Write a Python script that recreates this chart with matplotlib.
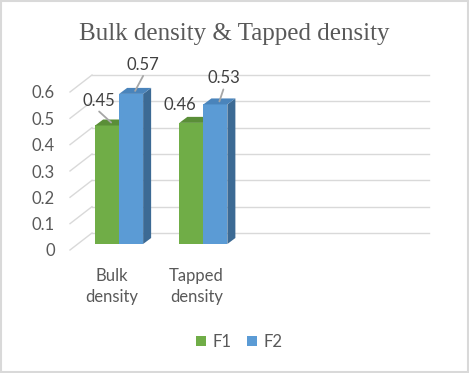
import matplotlib.pyplot as plt
from matplotlib.patches import Polygon, Rectangle

# === Data ===
categories = ["Bulk\ndensity", "Tapped\ndensity"]
series_names = ["F1", "F2"]
f1 = [0.45, 0.46]
f2 = [0.57, 0.53]
yticks = [0, 0.1, 0.2, 0.3, 0.4, 0.5, 0.6]

# colours: front, top, side
colors = {
    "F1": ("#70AD47", "#5A8E38", "#4E7A30"),
    "F2": ("#5B9BD5", "#4A84BB", "#3C6A94"),
}
grid_c = "#D9D9D9"
text_c = "#595959"

W, H = 4.69, 3.73
fig = plt.figure(figsize=(W, H), dpi=100)
ax_l, ax_b, ax_w, ax_h = 70 / 469, 123 / 373, 337 / 469, 158 / 373
ax = fig.add_axes([ax_l, ax_b, ax_w, ax_h])
n_slots = 4  # excel left two empty category slots
ax.set_xlim(0, n_slots)
ax.set_ylim(0, 0.6)
for s in ax.spines.values():
    s.set_visible(False)

# pixel -> data units
px_x = n_slots / (W * 100 * ax_w)
px_y = 0.6 / (H * 100 * ax_h)

# back wall gridlines + diagonals
bx, by = 22 * px_x, 17 * px_y
for v in yticks:
    ax.plot([0, bx], [v, v + by], color=grid_c, lw=1, clip_on=False, zorder=1)
    ax.plot([bx, n_slots + bx], [v + by, v + by], color=grid_c, lw=1, clip_on=False, zorder=1)

# 3d-ish bars
off_x, off_y = 7 * px_x, 6 * px_y    # bar front plane offset
dep_x, dep_y = 8 * px_x, 6 * px_y    # bar depth
bw = 24 * px_x
label_off = {(0, 0): (-12, 22), (0, 1): (8, 26), (1, 0): (-15, 15), (1, 1): (4, 23)}

for si, (name, vals) in enumerate(zip(series_names, [f1, f2])):
    front, top, side = colors[name]
    for i, v in enumerate(vals):
        x0 = i + 0.5 - bw + si * bw + off_x
        x1 = x0 + bw
        y0 = off_y
        y1 = v + off_y
        ax.add_patch(Rectangle((x0, y0), bw, v, facecolor=front, edgecolor="none", zorder=3, clip_on=False))
        ax.add_patch(Polygon([(x1, y0), (x1 + dep_x, y0 + dep_y), (x1 + dep_x, y1 + dep_y), (x1, y1)],
                             facecolor=side, edgecolor="none", zorder=3, clip_on=False))
        ax.add_patch(Polygon([(x0, y1), (x1, y1), (x1 + dep_x, y1 + dep_y), (x0 + dep_x, y1 + dep_y)],
                             facecolor=top, edgecolor="none", zorder=3, clip_on=False))
        dx, dy = label_off[(i, si)]
        tip = ((x0 + x1) / 2 + dep_x / 2, y1 + dep_y / 2)
        ax.annotate(f"{v:.2f}", xy=tip, xytext=(dx * 0.72, dy * 0.72), textcoords="offset points",
                    ha="center", va="center", fontsize=12, color="#404040", family="Lato",
                    zorder=4, annotation_clip=False)
        if dy > 20:  # leader line
            ax.annotate("", xy=tip, xytext=(dx * 0.72, (dy - 11) * 0.72), textcoords="offset points",
                        arrowprops=dict(arrowstyle="-", color="#A6A6A6", lw=1.3, shrinkA=0, shrinkB=0),
                        zorder=4, annotation_clip=False)

ax.set_yticks(yticks)
ax.set_yticklabels([f"{t:g}" for t in yticks], family="Lato", fontsize=12, color=text_c)
ax.set_xticks([i + 0.5 for i in range(len(categories))])
ax.set_xticklabels(categories, family="Lato", fontsize=12, color=text_c, linespacing=1.35)
ax.tick_params(axis="y", length=0, pad=11)
ax.tick_params(axis="x", length=0, pad=13)

# title
fig.text(0.5, 1 - 40 / 373, "Bulk density & Tapped density", ha="center", va="baseline",
         family="Liberation Serif", fontsize=18, color=text_c)

# legend
handles = [Rectangle((0, 0), 1, 1, facecolor=colors[n][0]) for n in series_names]
fig.legend(handles, series_names, loc="center", bbox_to_anchor=(239 / 469, 1 - 342 / 373),
           ncol=2, frameon=False, prop={"family": "Lato", "size": 12}, labelcolor=text_c,
           handlelength=0.6, handleheight=0.6, handletextpad=0.4, columnspacing=0.9)

# outer border
fig.patches.append(Rectangle((0.002, 0.003), 0.995, 0.994, transform=fig.transFigure,
                             facecolor="none", edgecolor=grid_c, lw=1.5))

plt.savefig("out.png", dpi=100)
plt.close()
